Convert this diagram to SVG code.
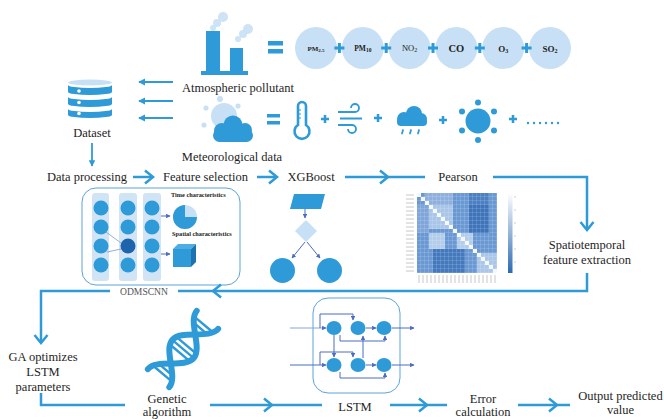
<svg xmlns="http://www.w3.org/2000/svg" width="664" height="419" viewBox="0 0 664 419">
  <style>
    .t { font-family: "Liberation Serif", "Times New Roman", serif; font-size: 12.5px; fill: #1e1e1e; text-anchor: middle; }
    .ct { font-family: "Liberation Serif", "Times New Roman", serif; font-weight: bold; fill: #222; text-anchor: middle; }
    .small { font-family: "Liberation Serif", "Times New Roman", serif; font-weight: bold; font-size: 6.3px; fill: #222; }
    .ln { fill: none; stroke: #2f9ad8; stroke-width: 2.5; }
    .thin { fill: none; stroke: #4c6cc4; stroke-width: 1; }
    .b { fill: #2f9ad8; }
    .lb { fill: #c8e0f5; }
    .pl { fill: none; stroke: #2f9ad8; stroke-width: 3; }
    .pls { fill: none; stroke: #2f9ad8; stroke-width: 2.5; }
  </style>
  <defs>
    <marker id="ah" viewBox="0 0 8 8" refX="7" refY="4" markerWidth="4.5" markerHeight="4.5" orient="auto">
      <path d="M0,0 L8,4 L0,8 z" fill="#4c6cc4"/>
    </marker>
    <marker id="ahb" viewBox="0 0 8 8" refX="7" refY="4" markerWidth="3.6" markerHeight="3.6" orient="auto">
      <path d="M0,0 L8,4 L0,8 z" fill="#2f9ad8"/>
    </marker>
    <path id="chev" d="M-8,-6.5 L0,0 L-8,6.5" fill="none" stroke="#2f9ad8" stroke-width="2.5"/>
    <path id="plus" d="M-5,0 H5 M0,-5 V5" class="pl"/>
    <path id="plus-s" d="M-4,0 H4 M0,-4 V4" class="pls"/>
    <linearGradient id="cbar" x1="0" y1="0" x2="0" y2="1">
      <stop offset="0" stop-color="#ffffff"/>
      <stop offset="1" stop-color="#2c6ab3"/>
    </linearGradient>
    <pattern id="hgrid" width="4" height="4" patternUnits="userSpaceOnUse" x="417" y="193">
      <path d="M4,0 V4 H0" fill="none" stroke="#ffffff" stroke-width="0.6" stroke-opacity="0.45"/>
    </pattern>
    <pattern id="ylab" width="10" height="4" patternUnits="userSpaceOnUse" x="405" y="193">
      <path d="M1,2 H9" stroke="#b9b9b9" stroke-width="0.8"/>
    </pattern>
    <pattern id="xlab" width="4" height="10" patternUnits="userSpaceOnUse" x="417" y="274">
      <path d="M2,1 V9" stroke="#b9b9b9" stroke-width="0.8"/>
    </pattern>
  </defs>

  <rect width="664" height="419" fill="#ffffff"/>

  <!-- Atmospheric pollutant -->
  <g id="pollutant">
    <g class="lb" fill-opacity="0.9">
      <circle cx="213" cy="28" r="3"/>
      <circle cx="217" cy="23" r="4"/>
      <circle cx="223" cy="17" r="5"/>
      <circle cx="238" cy="39" r="3"/>
      <circle cx="243" cy="34" r="4"/>
      <circle cx="248" cy="29" r="5"/>
    </g>
    <rect class="b" x="206" y="31" width="14" height="41"/>
    <rect class="b" x="230" y="48" width="13" height="24"/>
    <rect class="b" x="201" y="71" width="47" height="4"/>
    <rect class="b" x="268" y="41" width="15" height="4.5"/>
    <rect class="b" x="268" y="49" width="15" height="4.5"/>
    <g class="lb">
      <circle cx="316" cy="48" r="21"/>
      <circle cx="362.8" cy="48" r="21"/>
      <circle cx="409.6" cy="48" r="21"/>
      <circle cx="456.4" cy="48" r="21"/>
      <circle cx="503.2" cy="48" r="21"/>
      <circle cx="550" cy="48" r="21"/>
    </g>
    <use href="#plus" x="339.4" y="48"/>
    <use href="#plus" x="386.2" y="48"/>
    <use href="#plus" x="433" y="48"/>
    <use href="#plus" x="479.8" y="48"/>
    <use href="#plus" x="526.6" y="48"/>
    <text class="ct" x="316" y="50.5" font-size="7">PM<tspan font-size="5" dy="1">2.5</tspan></text>
    <text class="ct" x="362.8" y="50.5" font-size="7.5">PM<tspan font-size="5.5" dy="1">10</tspan></text>
    <text class="ct" x="409.6" y="51" font-size="8.5" style="font-weight:normal">NO<tspan font-size="6" dy="1">2</tspan></text>
    <text class="ct" x="456.4" y="52" font-size="10.5">CO</text>
    <text class="ct" x="503.2" y="51.5" font-size="9">O<tspan font-size="6" dy="1">3</tspan></text>
    <text class="ct" x="550" y="51.5" font-size="9">SO<tspan font-size="6" dy="1">2</tspan></text>
    <text class="t" x="238" y="92">Atmospheric pollutant</text>
  </g>

  <!-- Meteorological data -->
  <g id="meteorological">
    <g class="lb">
      <circle cx="224" cy="116" r="13"/>
      <circle cx="220" cy="99" r="3"/>
      <circle cx="238" cy="106" r="2.6"/>
      <circle cx="206" cy="108" r="2.6"/>
      <circle cx="204" cy="125" r="2.6"/>
    </g>
    <g class="b">
      <circle cx="222" cy="131" r="8"/>
      <circle cx="233" cy="125" r="9.5"/>
      <circle cx="245" cy="130" r="7"/>
      <rect x="213" y="129" width="40" height="13" rx="6.5"/>
    </g>
    <rect class="b" x="267" y="114" width="13" height="3.5"/>
    <rect class="b" x="267" y="121" width="13" height="3.5"/>
    <!-- thermometer -->
    <path d="M298,125 V106 a4,4 0 0 1 8,0 V125 a7.5,7.5 0 1 1 -8,0 Z" fill="none" stroke="#2f9ad8" stroke-width="2.6"/>
    <path d="M298,110 h3 M298,114 h3 M298,118 h3" stroke="#2f9ad8" stroke-width="1.2"/>
    <use href="#plus-s" x="325" y="119"/>
    <!-- wind -->
    <path d="M338,112 H355 a4,4 0 1 0 -4,-4 M340,118.5 H362 M338,125 H352 a4,4 0 1 1 -4,4" fill="none" stroke="#2f9ad8" stroke-width="1.8"/>
    <use href="#plus-s" x="378" y="118"/>
    <!-- rain cloud -->
    <g class="b">
      <circle cx="404" cy="119" r="7"/>
      <circle cx="414" cy="114" r="8"/>
      <circle cx="421" cy="119" r="6"/>
      <rect x="397" y="118" width="30" height="8" rx="4"/>
    </g>
    <path d="M403,130 l-1,3.5 M411,130 l-1,3.5 M419,130 l-1,3.5" stroke="#2f9ad8" stroke-width="1.8" stroke-linecap="round"/>
    <use href="#plus-s" x="443" y="120"/>
    <!-- sun -->
    <g class="b">
      <circle cx="478" cy="121" r="12.5"/>
      <circle cx="478" cy="102.5" r="3"/>
      <circle cx="494" cy="111.5" r="3"/>
      <circle cx="494" cy="130.5" r="3"/>
      <circle cx="478" cy="140" r="3"/>
      <circle cx="462" cy="130.5" r="3"/>
      <circle cx="462" cy="111.5" r="3"/>
    </g>
    <use href="#plus-s" x="513" y="119"/>
    <g class="b">
      <circle cx="528" cy="123" r="1.2"/>
      <circle cx="534" cy="123" r="1.2"/>
      <circle cx="540" cy="123" r="1.2"/>
      <circle cx="546" cy="123" r="1.2"/>
      <circle cx="552" cy="123" r="1.2"/>
      <circle cx="558" cy="123" r="1.2"/>
    </g>
    <text class="t" x="232" y="161">Meteorological data</text>
  </g>

  <!-- Dataset -->
  <g id="dataset">
    <ellipse cx="90" cy="82.5" rx="22" ry="3" fill="#c8e0f5"/>
    <path class="b" d="M68,85 a22,3 0 0 0 44,0 V92 a22,3 0 0 1 -44,0 Z"/>
    <path class="b" d="M68,97 a22,3 0 0 0 44,0 V104 a22,3 0 0 1 -44,0 Z"/>
    <path class="b" d="M68,109 a22,3 0 0 0 44,0 V115 a22,3 0 0 1 -44,0 Z"/>
    <g fill="#ffffff">
      <circle cx="79" cy="91" r="1.8"/>
      <circle cx="79" cy="102.5" r="1.8"/>
      <circle cx="79" cy="113.5" r="1.8"/>
    </g>
    <text class="t" x="92" y="137">Dataset</text>
  </g>

  <!-- Labels of the main flow -->
  <g id="data-processing"><text class="t" x="87" y="181">Data processing</text></g>
  <g id="feature-selection"><text class="t" x="205.5" y="181">Feature selection</text></g>
  <g id="xgboost">
    <text class="t" x="311" y="181">XGBoost</text>
    <polygon class="b" points="294,194 325,194 321,209 290,209"/>
    <path class="thin" d="M305,209 V218" marker-end="url(#ah)"/>
    <polygon class="lb" points="306,220 317,231 306,242 295,231"/>
    <path class="thin" d="M305,242 L292,258" marker-end="url(#ah)"/>
    <path class="thin" d="M307,242 L320,258" marker-end="url(#ah)"/>
    <circle class="b" cx="282.5" cy="270.5" r="12.5"/>
    <circle class="b" cx="329.5" cy="270.5" r="12.5"/>
  </g>
  <g id="pearson">
    <text class="t" x="458" y="181">Pearson</text>
    <rect x="417" y="193" width="80" height="80" fill="#6a98d2"/>
    <rect x="425" y="193" width="28" height="12" fill="#8fb0de"/>
    <rect x="469" y="193" width="20" height="12" fill="#4d80c2"/>
    <rect x="417" y="205" width="12" height="28" fill="#7fa5d9"/>
    <rect x="429" y="205" width="24" height="24" fill="#a9c5e8"/>
    <rect x="469" y="205" width="20" height="28" fill="#3f74ba"/>
    <rect x="429" y="233" width="16" height="16" fill="#b3cdeb"/>
    <rect x="457" y="233" width="16" height="16" fill="#b3cdeb"/>
    <rect x="433" y="249" width="32" height="24" fill="#4579bd"/>
    <rect x="477" y="253" width="20" height="20" fill="#aac6e8"/>
    <path fill="#f4f8fd" d="M417,193h4v4h-4z M421,197h4v4h-4z M425,201h4v4h-4z M429,205h4v4h-4z M433,209h4v4h-4z M437,213h4v4h-4z M441,217h4v4h-4z M445,221h4v4h-4z M449,225h4v4h-4z M453,229h4v4h-4z M457,233h4v4h-4z M461,237h4v4h-4z M465,241h4v4h-4z M469,245h4v4h-4z M473,249h4v4h-4z M477,253h4v4h-4z M481,257h4v4h-4z M485,261h4v4h-4z M489,265h4v4h-4z M493,269h4v4h-4z"/>
    <rect x="417" y="193" width="80" height="80" fill="url(#hgrid)"/>
    <rect x="405" y="193" width="11" height="80" fill="url(#ylab)"/>
    <rect x="417" y="274" width="80" height="10" fill="url(#xlab)"/>
    <rect x="508" y="193" width="4.5" height="80" fill="url(#cbar)"/>
    <path d="M514,197 h2 M514,210 h2 M514,223 h2 M514,236 h2 M514,249 h2 M514,262 h2" stroke="#c4c4c4" stroke-width="0.8"/>
  </g>
  <g id="spatiotemporal">
    <text class="t" x="587" y="249">Spatiotemporal</text>
    <text class="t" x="587" y="264">feature extraction</text>
  </g>

  <!-- ODMSCNN -->
  <g id="odmscnn">
    <rect x="82" y="188" width="158" height="97" rx="14" fill="none" stroke="#5aa3dc" stroke-width="1"/>
    <g fill="#d0e4f6">
      <rect x="92" y="193" width="17" height="88" rx="3"/>
      <rect x="119" y="193" width="18" height="88" rx="3"/>
      <rect x="143" y="193" width="18" height="88" rx="3"/>
    </g>
    <g class="b">
      <circle cx="101" cy="208" r="7.5"/>
      <circle cx="101" cy="227" r="7.5"/>
      <circle cx="101" cy="246" r="7.5"/>
      <circle cx="101" cy="265" r="7.5"/>
      <circle cx="128" cy="208" r="7.5"/>
      <circle cx="128" cy="227" r="7.5"/>
      <circle cx="128" cy="265" r="7.5"/>
      <circle cx="152" cy="208" r="7.5"/>
      <circle cx="152" cy="227" r="7.5"/>
      <circle cx="152" cy="246" r="7.5"/>
      <circle cx="152" cy="265" r="7.5"/>
    </g>
    <circle cx="128" cy="246" r="7.5" fill="#1d64ad"/>
    <path d="M106,232 L121,243 M107,252 L121,249" stroke="#7d98d4" stroke-width="0.8" fill="none"/>
    <path class="thin" d="M161,216 H170" marker-end="url(#ah)"/>
    <path class="thin" d="M161,254 H170" marker-end="url(#ah)"/>
    <circle cx="185" cy="217" r="12" fill="#c8e0f5"/>
    <path class="b" d="M185,217 L197,217 A12,12 0 1 1 185,205 Z"/>
    <polygon points="173,249 178,244 196,244 191,249" fill="#4dade4"/>
    <polygon points="191,249 196,244 196,262 191,267" fill="#1f72b0"/>
    <rect class="b" x="173" y="249" width="18" height="18"/>
    <text class="small" x="171" y="197">Time characteristics</text>
    <text class="small" x="172" y="236">Spatial characteristics</text>
    <text class="t" x="144" y="295" style="font-size:9.6px; fill:#555">ODMSCNN</text>
  </g>

  <g id="ga-optimizes">
    <text class="t" x="43" y="361">GA optimizes</text>
    <text class="t" x="43" y="376">LSTM</text>
    <text class="t" x="43" y="391">parameters</text>
  </g>

  <!-- Genetic algorithm -->
  <g id="genetic-algorithm">
    <g transform="translate(183,349) rotate(-50)" fill="none" stroke="#2f9ad8" stroke-linecap="round">
      <path d="M-38,-14 C-24.2,-14 -13.8,14 0,14 C13.8,14 24.2,-14 38,-14" stroke-width="6"/>
      <path d="M-38,14 C-24.2,14 -13.8,-14 0,-14 C13.8,-14 24.2,14 38,14" stroke-width="6"/>
      <path d="M-32,-9 V9 M-27,-5.5 V5.5 M-5,-9.8 V9.8 M0,-11 V11 M5,-9.8 V9.8 M27,-5.5 V5.5 M32,-9 V9" stroke-width="2.4"/>
    </g>
    <text class="t" x="167" y="403">Genetic</text>
    <text class="t" x="167" y="416">algorithm</text>
  </g>

  <!-- LSTM -->
  <g id="lstm">
    <rect x="313" y="298" width="87" height="95" rx="15" fill="none" stroke="#5aa3dc" stroke-width="1"/>
    <path class="thin" d="M290,328 H326" style="stroke:#8aa3dc" marker-end="url(#ah)"/>
    <path class="thin" d="M290,365 H326" marker-end="url(#ah)"/>
    <path class="thin" d="M320,328 V314 H353 V320" marker-end="url(#ah)"/>
    <path class="thin" d="M320,365 V352 H353 V357" marker-end="url(#ah)"/>
    <path class="thin" d="M334,335 V357" marker-end="url(#ah)"/>
    <path class="thin" d="M340,335 V341 H385 V336" marker-end="url(#ah)"/>
    <path class="thin" d="M340,372 V378 H385 V373" marker-end="url(#ah)"/>
    <path class="thin" d="M363,358 V336" marker-end="url(#ah)"/>
    <path class="thin" d="M366,328 H376" marker-end="url(#ah)"/>
    <path class="thin" d="M366,365 H376" marker-end="url(#ah)"/>
    <path class="thin" d="M392,328 H414" marker-end="url(#ah)"/>
    <path class="thin" d="M392,365 H414" marker-end="url(#ah)"/>
    <g class="b">
      <ellipse cx="334" cy="328" rx="7.5" ry="7"/>
      <ellipse cx="358" cy="328" rx="7.5" ry="7"/>
      <ellipse cx="384" cy="328" rx="7.5" ry="7"/>
      <ellipse cx="334" cy="365" rx="7.5" ry="7"/>
      <ellipse cx="358" cy="365" rx="7.5" ry="7"/>
      <ellipse cx="384" cy="365" rx="7.5" ry="7"/>
    </g>
    <text class="t" x="355" y="411">LSTM</text>
  </g>

  <g id="error-calculation">
    <text class="t" x="483" y="403">Error</text>
    <text class="t" x="483" y="416">calculation</text>
  </g>
  <g id="output">
    <text class="t" x="620.5" y="400">Output predicted</text>
    <text class="t" x="620.5" y="414">value</text>
  </g>

  <!-- Connectors -->
  <g id="connectors">
    <path d="M173,82 H139" fill="none" stroke="#2f9ad8" stroke-width="2" marker-end="url(#ahb)"/>
    <path d="M173,101 H139" fill="none" stroke="#2f9ad8" stroke-width="2" marker-end="url(#ahb)"/>
    <path d="M173,118 H139" fill="none" stroke="#2f9ad8" stroke-width="2" marker-end="url(#ahb)"/>
    <path d="M92,143 V166" fill="none" stroke="#2f9ad8" stroke-width="1.8" marker-end="url(#ahb)"/>

    <path class="ln" d="M133,177 H152"/>
    <use href="#chev" x="153" y="177"/>
    <path class="ln" d="M257,177 H276"/>
    <use href="#chev" x="277" y="177"/>
    <path class="ln" d="M345,177 H425"/>
    <use href="#chev" x="388" y="177"/>
    <path class="ln" d="M493,177 H587 V230"/>
    <use href="#chev" transform="translate(587,230) rotate(90)"/>

    <path class="ln" d="M587,273 V291 H178"/>
    <use href="#chev" transform="translate(213,291) rotate(180)"/>
    <path class="ln" d="M110,291 H41 V343"/>
    <use href="#chev" transform="translate(41,343) rotate(90)"/>

    <path class="ln" d="M41,393 V405 H125"/>
    <path class="ln" d="M210,405 H322"/>
    <use href="#chev" x="272" y="405"/>
    <path class="ln" d="M390,405 H447"/>
    <use href="#chev" x="427" y="405"/>
    <path class="ln" d="M518,405 H570"/>
    <use href="#chev" x="557" y="405"/>
  </g>
</svg>
